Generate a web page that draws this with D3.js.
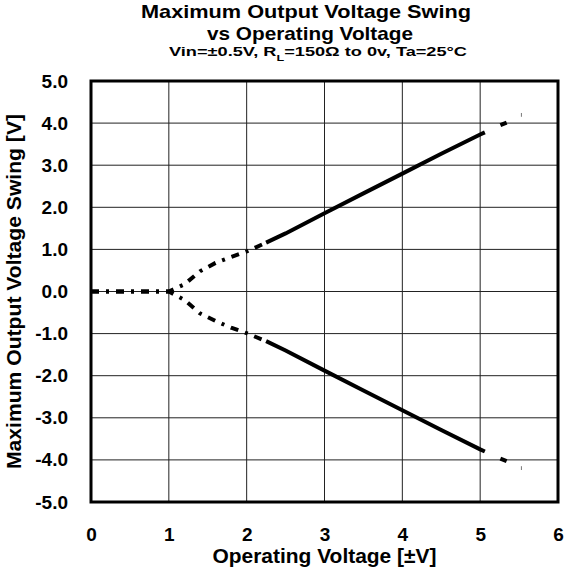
<!DOCTYPE html>
<html>
<head>
<meta charset="utf-8">
<script src="https://cdn.jsdelivr.net/npm/d3@7"></script>
<style>
  body { margin: 0; background: #fff; }
  text { font-family: "Liberation Sans", Arial, sans-serif; font-weight: bold; fill: #000; }
</style>
</head>
<body>
<div id="chartArea"></div>
<script>
// operating voltage [±V] and output swing
var vcc = [0, 0.25, 0.5, 0.75, 1.0, 1.2, 1.4, 1.6, 1.8, 2.0, 2.25, 2.5, 3.0, 3.5, 4.0, 4.5, 5.0, 5.06]
var vohUpper = [0, 0, 0, 0, 0, 0.17, 0.48, 0.68, 0.82, 0.95, 1.16, 1.38, 1.86, 2.33, 2.80, 3.27, 3.73, 3.78]
var volLower = [0, 0, 0, 0, 0, -0.2, -0.52, -0.7, -0.86, -0.99, -1.18, -1.40, -1.88, -2.35, -2.82, -3.29, -3.75, -3.80]
// sparse points past 5V
var vccTail = [5.26, 5.34]
var upperTail = [3.95, 4.01]
var lowerTail = [-3.97, -4.03]
var vccTick = [5.53, 5.53]
var upperTick = [4.15, 4.24]
var lowerTick = [-4.15, -4.24]

var xTicks = [0, 1, 2, 3, 4, 5, 6]
var yTicks = [5, 4, 3, 2, 1, 0, -1, -2, -3, -4, -5]

var W = 566, H = 577
var mLeft = 91, mRight = 558, mTop = 81, mBottom = 502
var dashEnd = 2.25 // dash-dot part of the trace ends here

var svg = d3.select('#chartArea').append('svg')
  .attr('width', W).attr('height', H)

var x = d3.scaleLinear().domain([0, 6]).range([mLeft, mRight])
var y = d3.scaleLinear().domain([-5, 5]).range([mBottom, mTop])

// stretch a text to a given width (the original fonts run wider)
function fit(sel, len) {
  sel.attr('textLength', len).attr('lengthAdjust', 'spacingAndGlyphs')
}

// grid
var g = svg.append('g')
g.selectAll('.vg').data(xTicks.slice(1, -1)).enter().append('line')
  .attr('x1', d => x(d)).attr('x2', d => x(d))
  .attr('y1', mTop).attr('y2', mBottom)
  .attr('stroke', '#222').attr('stroke-width', 1)
g.selectAll('.hg').data(yTicks.slice(1, -1)).enter().append('line')
  .attr('x1', mLeft).attr('x2', mRight)
  .attr('y1', d => y(d)).attr('y2', d => y(d))
  .attr('stroke', '#222').attr('stroke-width', 1)

// axes - labels only, box drawn separately
var xAxis = d3.axisBottom(x).tickValues(xTicks).tickSize(0).tickPadding(26).tickFormat(d3.format('d'))
svg.append('g').attr('transform', `translate(0,${mBottom})`).call(xAxis)
  .call(s => s.select('.domain').remove())
  .selectAll('text').style('font-size', '19px').style('font-family', '"Liberation Sans", Arial, sans-serif').style('font-weight', 'bold')

var yAxis = d3.axisLeft(y).tickValues(yTicks).tickSize(0).tickPadding(23)
svg.append('g').attr('transform', `translate(${mLeft},0)`).call(yAxis)
  .call(s => s.select('.domain').remove())
  .selectAll('text').style('font-size', '19px').style('font-family', '"Liberation Sans", Arial, sans-serif').style('font-weight', 'bold')
  .text(d => d.toFixed(1))

// traces
var line = d3.line().x(d => x(d[0])).y(d => y(d[1]))

function drawTrace(ys, tailY, tickY) {
  var pts = vcc.map((v, i) => [v, ys[i]])
  svg.append('path')
    .datum(pts.filter(p => p[0] <= dashEnd))
    .attr('d', line)
    .attr('fill', 'none').attr('stroke', '#000').attr('stroke-width', 4)
    .attr('stroke-dasharray', '8,7,3,7')
  svg.append('path')
    .datum(pts.filter(p => p[0] >= dashEnd))
    .attr('d', line)
    .attr('fill', 'none').attr('stroke', '#000').attr('stroke-width', 4)
  svg.append('path')
    .datum(vccTail.map((v, i) => [v, tailY[i]]))
    .attr('d', line)
    .attr('fill', 'none').attr('stroke', '#000').attr('stroke-width', 4)
  svg.append('path')
    .datum(vccTick.map((v, i) => [v, tickY[i]]))
    .attr('d', line)
    .attr('fill', 'none').attr('stroke', '#777').attr('stroke-width', 1)
}
drawTrace(vohUpper, upperTail, upperTick)
drawTrace(volLower, lowerTail, lowerTick)

// plot box
svg.append('rect')
  .attr('x', mLeft).attr('y', mTop)
  .attr('width', mRight - mLeft).attr('height', mBottom - mTop)
  .attr('fill', 'none').attr('stroke', '#000').attr('stroke-width', 3)

// titles
svg.append('text').attr('x', 306).attr('y', 18).attr('text-anchor', 'middle')
  .style('font-size', '19px').text('Maximum Output Voltage Swing')
  .call(fit, 330)
svg.append('text').attr('x', 310).attr('y', 40).attr('text-anchor', 'middle')
  .style('font-size', '19px').text('vs Operating Voltage')
  .call(fit, 206)
var sub = svg.append('text').attr('x', 318).attr('y', 56).attr('text-anchor', 'middle')
  .style('font-size', '13px')
sub.append('tspan').text('Vin=±0.5V, R')
sub.append('tspan').attr('baseline-shift', 'sub').style('font-size', '9px').text('L')
sub.append('tspan').attr('baseline-shift', '0').text('=150Ω to 0v, Ta=25°C')
sub.call(fit, 298)

svg.append('text').attr('x', (mLeft + mRight) / 2).attr('y', 563).attr('text-anchor', 'middle')
  .style('font-size', '20px').text('Operating Voltage [±V]')
  .call(fit, 224)

svg.append('text').attr('transform', `translate(21,${(mTop + mBottom) / 2}) rotate(-90)`)
  .attr('text-anchor', 'middle')
  .style('font-size', '20px').text('Maximum Output Voltage Swing [V]')
  .call(fit, 355)
</script>
</body>
</html>
